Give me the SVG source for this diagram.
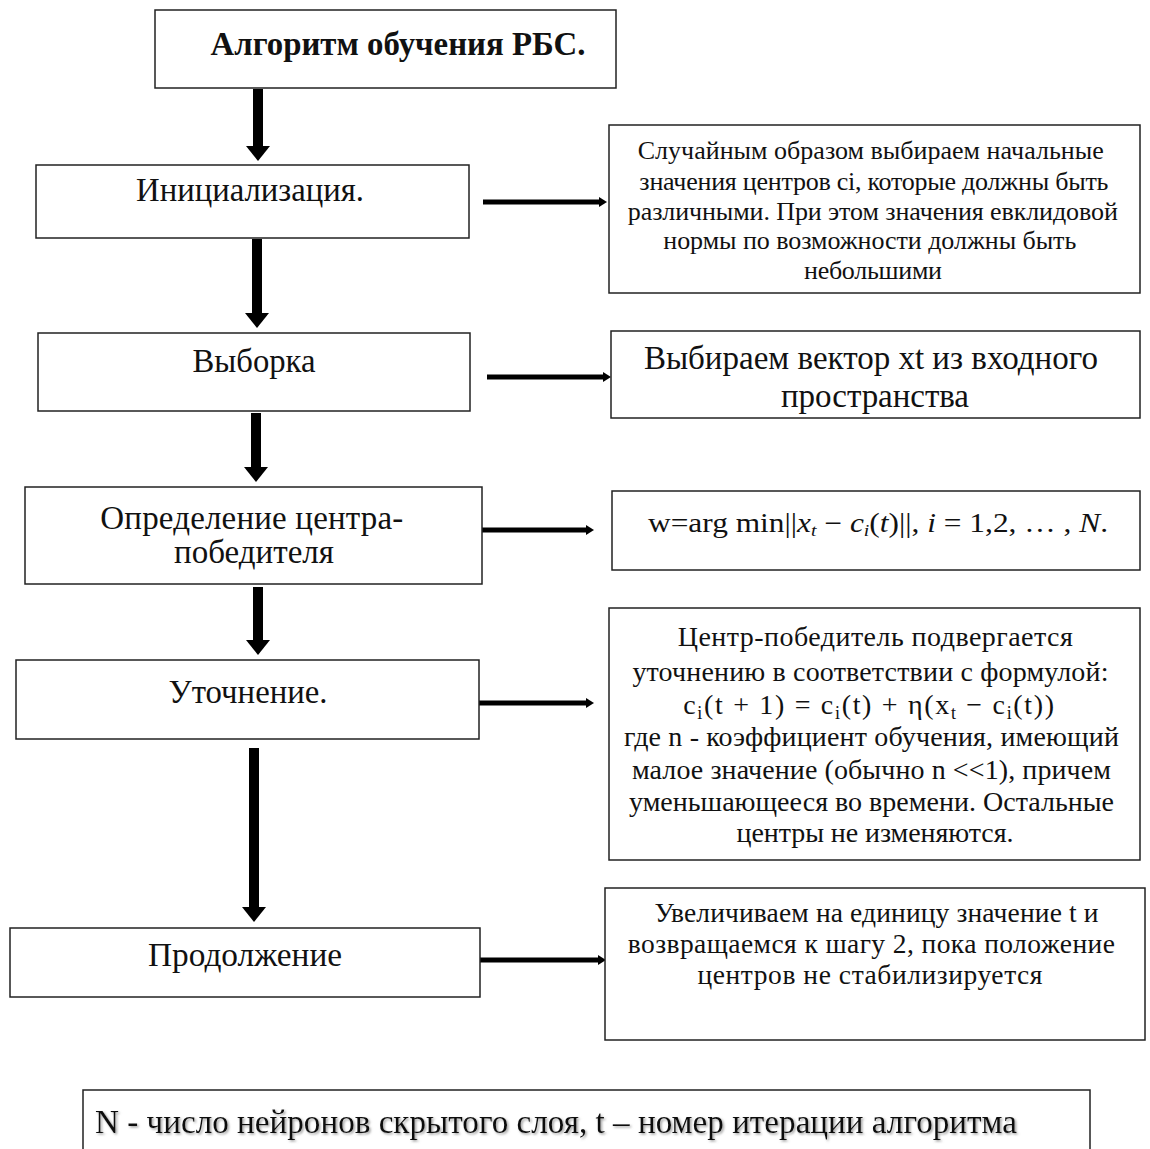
<svg xmlns="http://www.w3.org/2000/svg" width="1150" height="1149" viewBox="0 0 1150 1149">
<style>
.box{fill:#fff;stroke:#222;stroke-width:1.5}
.t{font-family:"Liberation Serif","Times New Roman",serif;fill:#111;text-anchor:middle}
.vl{stroke:#000;stroke-width:10;fill:none}
.hl{stroke:#000;stroke-width:5;fill:none}
.i{font-style:italic}
</style>
<defs>
<marker id="vh" markerUnits="userSpaceOnUse" markerWidth="16" markerHeight="24" refX="0" refY="12" orient="auto">
<path d="M0,0 L15,12 L0,24 z" fill="#000"/>
</marker>
<marker id="hh" markerUnits="userSpaceOnUse" markerWidth="9" markerHeight="12" refX="0" refY="6" orient="auto">
<path d="M0,1 L8,6 L0,11 z" fill="#000"/>
</marker>
<filter id="sh" x="-5%" y="-20%" width="110%" height="150%">
<feDropShadow dx="1.5" dy="1.5" stdDeviation="1" flood-color="#888" flood-opacity="0.8"/>
</filter>
</defs>

<g id="connectors">
<line class="vl" x1="258" y1="89" x2="258" y2="146" marker-end="url(#vh)"/>
<line class="vl" x1="257" y1="239" x2="257" y2="313" marker-end="url(#vh)"/>
<line class="vl" x1="256" y1="413" x2="256" y2="467" marker-end="url(#vh)"/>
<line class="vl" x1="258" y1="587" x2="258" y2="640" marker-end="url(#vh)"/>
<line class="vl" x1="254" y1="748" x2="254" y2="907" marker-end="url(#vh)"/>
<line class="hl" x1="483" y1="202" x2="599" y2="202" marker-end="url(#hh)"/>
<line class="hl" x1="487" y1="377" x2="603" y2="377" marker-end="url(#hh)"/>
<line class="hl" x1="468" y1="530" x2="586" y2="530" marker-end="url(#hh)"/>
<line class="hl" x1="468" y1="703" x2="586" y2="703" marker-end="url(#hh)"/>
<line class="hl" x1="480" y1="960" x2="598" y2="960" marker-end="url(#hh)"/>
</g>

<g id="title">
<rect class="box" x="155" y="10" width="461" height="78"/>
<text class="t" x="398" y="55" font-size="33" font-weight="bold" textLength="375" lengthAdjust="spacingAndGlyphs">Алгоритм обучения РБС.</text>
</g>

<g id="init">
<rect class="box" x="36" y="165" width="433" height="73"/>
<text class="t" x="250" y="201" font-size="33" textLength="228" lengthAdjust="spacingAndGlyphs">Инициализация.</text>
</g>

<g id="init-desc">
<rect class="box" x="609" y="125" width="531" height="168"/>
<text class="t" font-size="26" lengthAdjust="spacingAndGlyphs">
<tspan x="874" y="159" textLength="466">Случайным образом выбираем начальные</tspan>
<tspan x="877" y="190" textLength="469">значения центров ci, которые должны быть</tspan>
<tspan x="876" y="220" textLength="490">различными. При этом значения евклидовой</tspan>
<tspan x="873" y="249" textLength="413">нормы по возможности должны быть</tspan>
<tspan x="873" y="279" textLength="138">небольшими</tspan>
</text>
</g>

<g id="sample">
<rect class="box" x="38" y="333" width="432" height="78"/>
<text class="t" x="254" y="372" font-size="33" textLength="123" lengthAdjust="spacingAndGlyphs">Выборка</text>
</g>

<g id="sample-desc">
<rect class="box" x="611" y="331" width="529" height="87"/>
<text class="t" font-size="33" lengthAdjust="spacingAndGlyphs">
<tspan x="875" y="369" textLength="454">Выбираем вектор xt из входного</tspan>
<tspan x="875" y="407" textLength="188">пространства</tspan>
</text>
</g>

<g id="winner">
<rect class="box" x="25" y="487" width="457" height="97"/>
<text class="t" font-size="33" lengthAdjust="spacingAndGlyphs">
<tspan x="256" y="529" textLength="303">Определение центра-</tspan>
<tspan x="254" y="563" textLength="160">победителя</tspan>
</text>
</g>

<g id="winner-desc">
<rect class="box" x="612" y="491" width="528" height="79"/>
<text class="t" x="878" y="532" font-size="27" textLength="460" lengthAdjust="spacingAndGlyphs">w=arg min||<tspan class="i">x</tspan><tspan class="i" font-size="17" baseline-shift="-4">t</tspan> − <tspan class="i">c</tspan><tspan class="i" font-size="17" baseline-shift="-4">i</tspan>(<tspan class="i">t</tspan>)||, <tspan class="i">i</tspan> = 1,2, … , <tspan class="i">N</tspan>.</text>
</g>

<g id="refine">
<rect class="box" x="16" y="660" width="463" height="79"/>
<text class="t" x="248" y="703" font-size="33" textLength="159" lengthAdjust="spacingAndGlyphs">Уточнение.</text>
</g>

<g id="refine-desc">
<rect class="box" x="609" y="608" width="531" height="252"/>
<text class="t" font-size="28" lengthAdjust="spacingAndGlyphs">
<tspan x="879" y="646" textLength="395">Центр-победитель подвергается</tspan>
<tspan x="874" y="681" textLength="476">уточнению в соответствии с формулой:</tspan>
<tspan x="873" y="714" textLength="371">c<tspan font-size="18" baseline-shift="-5">i</tspan>(t + 1) = c<tspan font-size="18" baseline-shift="-5">i</tspan>(t) + η(x<tspan font-size="18" baseline-shift="-5">t</tspan> − c<tspan font-size="18" baseline-shift="-5">i</tspan>(t))</tspan>
<tspan x="875" y="746" textLength="495">где n - коэффициент обучения, имеющий</tspan>
<tspan x="875" y="779" textLength="479">малое значение (обычно n &lt;&lt;1), причем</tspan>
<tspan x="875" y="811" textLength="485">уменьшающееся во времени. Остальные</tspan>
<tspan x="875" y="842" textLength="277">центры не изменяются.</tspan>
</text>
</g>

<g id="continue">
<rect class="box" x="10" y="928" width="470" height="69"/>
<text class="t" x="245" y="966" font-size="33" textLength="194" lengthAdjust="spacingAndGlyphs">Продолжение</text>
</g>

<g id="continue-desc">
<rect class="box" x="605" y="888" width="540" height="152"/>
<text class="t" font-size="27.5" lengthAdjust="spacingAndGlyphs">
<tspan x="880" y="922" textLength="444">Увеличиваем на единицу значение t и</tspan>
<tspan x="875" y="953" textLength="487">возвращаемся к шагу 2, пока положение</tspan>
<tspan x="870" y="984" textLength="345">центров не стабилизируется</tspan>
</text>
</g>

<g id="legend">
<rect class="box" x="83" y="1090" width="1007" height="80" stroke-width="2.5"/>
<text class="t" x="556" y="1133" font-size="33" textLength="922" lengthAdjust="spacingAndGlyphs" filter="url(#sh)">N - число нейронов скрытого слоя, t – номер итерации алгоритма</text>
</g>
</svg>
